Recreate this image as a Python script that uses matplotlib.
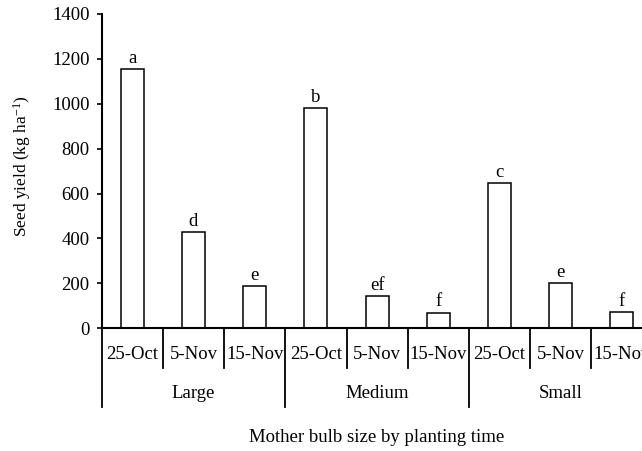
import matplotlib
matplotlib.use("Agg")
import matplotlib.pyplot as plt
import matplotlib.transforms as mtransforms

plt.rcParams['font.family'] = ['Liberation Serif', 'DejaVu Serif']
plt.rcParams['mathtext.fontset'] = 'custom'
plt.rcParams['mathtext.rm'] = 'Liberation Serif'
plt.rcParams['mathtext.it'] = 'Liberation Serif:italic'

groups = ["Large", "Medium", "Small"]
dates = ["25-Oct", "5-Nov", "15-Nov"]
yield_vals = [1155, 430, 188, 981, 145, 70, 646, 203, 71]
letters = ["a", "d", "e", "b", "ef", "f", "c", "e", "f"]
yticks = [0, 200, 400, 600, 800, 1000, 1200, 1400]

fs = 13.5
fig = plt.figure(figsize=(6.42, 4.51), dpi=100)
ax = fig.add_axes([0.1584, 0.2721, 0.8580, 0.6969])

n = len(yield_vals)
x = list(range(n))
ax.bar(x, yield_vals, width=0.376, facecolor='white', edgecolor='black', linewidth=1.1, zorder=2)
for xi, v, l in zip(x, yield_vals, letters):
    ax.annotate(l, (xi, v), xytext=(0, 1.5), textcoords='offset points',
                ha='center', va='bottom', fontsize=fs)

ax.set_xlim(-0.5, n - 0.5)
ax.set_ylim(0, 1400)
ax.set_yticks(yticks)
ax.set_yticklabels([str(t) for t in yticks], fontsize=fs)
ax.tick_params(axis='y', direction='out', length=3.6, width=1.2, pad=5)
ax.tick_params(axis='x', bottom=False, labelbottom=False)
for s in ['top', 'right']:
    ax.spines[s].set_visible(False)
for s in ['left', 'bottom']:
    ax.spines[s].set_linewidth(1.5)

trans = mtransforms.blended_transform_factory(ax.transData, ax.transAxes)
for i in range(n):
    ax.text(i, -0.085, dates[i % 3], transform=trans, ha='center', va='center', fontsize=fs)
for i in range(n + 1):
    xb = i - 0.5
    y_end = -0.251 if i % 3 == 0 else -0.127
    ax.plot([xb, xb], [0, y_end], transform=trans, color='black', lw=1.3, clip_on=False)
for g, name in enumerate(groups):
    ax.text(3 * g + 1, -0.206, name, transform=trans, ha='center', va='center', fontsize=fs)

ax.text(0.5, -0.346, "Mother bulb size by planting time",
        transform=ax.transAxes, ha='center', va='center', fontsize=fs)

fig.text(0.034, 0.632, 'Seed yield (kg ha$^{\\mathregular{-1}}$)', rotation=90,
         ha='center', va='center', fontsize=12.5)

fig.savefig("out.png", dpi=100)
